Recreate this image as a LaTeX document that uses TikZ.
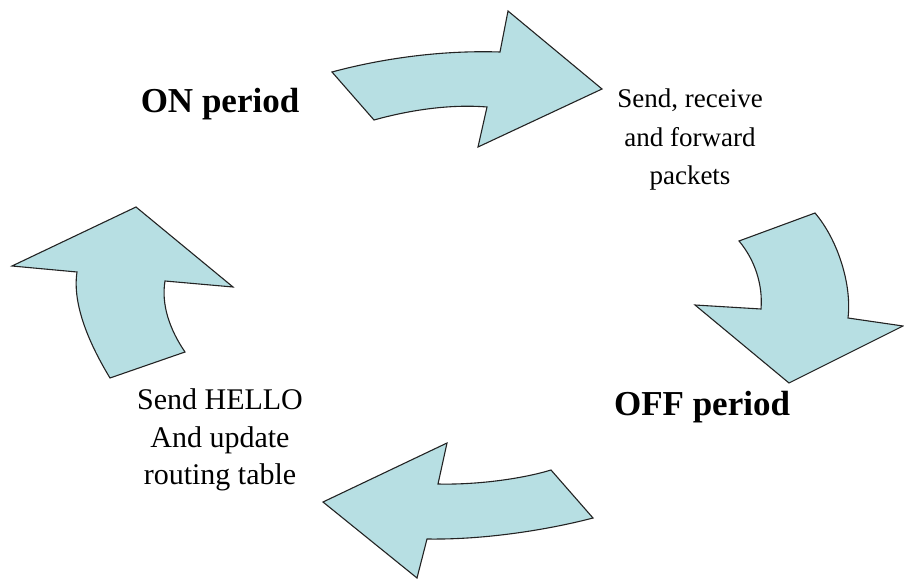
\documentclass[tikz,border=0pt]{standalone}
\usepackage{fontspec}
\setmainfont{Liberation Serif}
\definecolor{arrowfill}{RGB}{183,223,227}
\definecolor{arrowline}{RGB}{35,35,35}

\begin{document}
\begin{tikzpicture}[x=1pt, y=-1pt,
  cyc/.style={fill=arrowfill, draw=arrowline, line width=1.1pt, line join=miter},
  phase/.style={font=\fontsize{35}{42}\selectfont\bfseries, inner sep=0pt, anchor=base},
  task/.style={align=center, inner sep=0pt},
]
\useasboundingbox (0,0) rectangle (904,580);

% labels
\node[phase] (on) at (220,113) {ON period};
\node[phase] (off) at (702,415) {OFF period};
\node[task, font=\fontsize{27}{38.5}\selectfont] (fwd) at (690,140) {Send, receive\\and forward\\packets};
\node[task, font=\fontsize{30}{37.5}\selectfont] (hello) at (220,440) {Send HELLO\\And update\\routing table};

% ON -> forwarding
\draw[cyc] (332,72) .. controls (380,59) and (440,50) .. (500,52) -- (508,11) -- (602,89)
  -- (478,147) -- (487,107) .. controls (450,104) and (410,110) .. (374,120) -- cycle;
% forwarding -> OFF
\draw[cyc] (739,241) -- (815,213) .. controls (838,240) and (852,285) .. (848,318)
  -- (903,326) -- (789,383) -- (695,305) -- (761,309)
  .. controls (763,285) and (755,260) .. (739,241) -- cycle;
% OFF -> HELLO
\draw[cyc] (551,470) -- (593,518) .. controls (555,528) and (490,540) .. (427,539)
  -- (417,578) -- (323,502) -- (447,443) -- (438,484)
  .. controls (480,485) and (525,478) .. (551,470) -- cycle;
% HELLO -> ON
\draw[cyc] (136,207) -- (233,287) -- (165,281) .. controls (161,305) and (170,330) .. (185,352)
  -- (110,378) .. controls (90,345) and (72,305) .. (77,272) -- (12,266) -- cycle;
\end{tikzpicture}
\end{document}
